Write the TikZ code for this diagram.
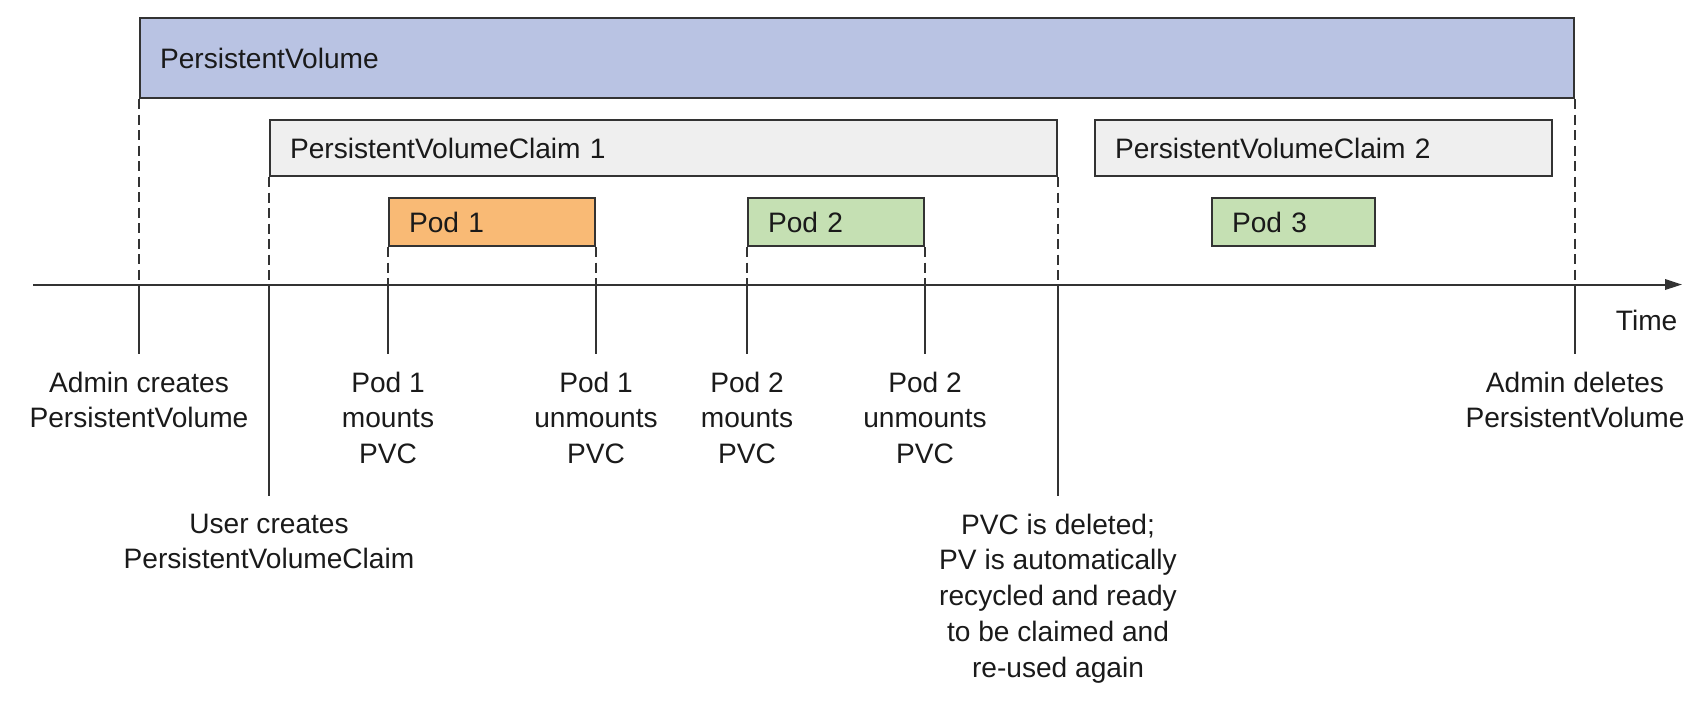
\documentclass[tikz,border=0pt]{standalone}
\usepackage{fontspec}
\setmainfont{Liberation Sans}
\usetikzlibrary{arrows.meta, positioning}

\definecolor{pvfill}{HTML}{B9C3E3}
\definecolor{pvcfill}{HTML}{EFEFEF}
\definecolor{podorange}{HTML}{F9BA75}
\definecolor{podgreen}{HTML}{C5E0B3}
\definecolor{linec}{HTML}{333333}
\definecolor{textc}{HTML}{1A1A1A}

\begin{document}
\begin{tikzpicture}[
  font=\fontsize{8}{10.2}\selectfont,
  text=textc,
  span/.style={draw=linec, line width=0.2mm, anchor=north west, align=left,
               inner xsep=2mm, inner ysep=0pt},
  drop/.style={draw=linec, line width=0.2mm, dash pattern=on 1mm off 0.55mm},
  tick/.style={draw=linec, line width=0.2mm},
  axis/.style={draw=linec, line width=0.2mm,
               -{Triangle[length=1.7mm, width=1.05mm]}},
  note/.style={align=center, inner sep=0pt}
]
\useasboundingbox (0mm,0mm) rectangle (170.2mm,-70.3mm);

%% ---------- spans ----------
\node[span, fill=pvfill, text width=139.4mm, minimum height=8mm] (pv)
  at (13.9mm,-1.7mm) {PersistentVolume};
\node[span, fill=pvcfill, text width=74.7mm, minimum height=5.6mm] (pvc1)
  at (26.9mm,-11.9mm) {PersistentVolumeClaim 1};
\node[span, fill=pvcfill, text width=41.7mm, minimum height=5.6mm] (pvc2)
  at (109.4mm,-11.9mm) {PersistentVolumeClaim 2};
\node[span, fill=podorange, text width=16.6mm, minimum height=4.8mm] (pod1)
  at (38.8mm,-19.7mm) {Pod 1};
\node[span, fill=podgreen, text width=13.6mm, minimum height=4.8mm] (pod2)
  at (74.7mm,-19.7mm) {Pod 2};
\node[span, fill=podgreen, text width=12.3mm, minimum height=4.8mm] (pod3)
  at (121.1mm,-19.7mm) {Pod 3};

%% ---------- time axis ----------
\coordinate (axl) at (3.3mm,-28.45mm);
\coordinate (axr) at (168.2mm,-28.45mm);
\draw[axis] (axl) -- (axr);
\node[note, anchor=base east] (time) at (167.8mm,-33.0mm) {Time};

%% ---------- events ----------
\foreach \src/\len/\nm in {pv.south west/6.95/adm, pvc1.south west/21.15/usr,
    pod1.south west/6.95/pam, pod1.south east/6.95/pau,
    pod2.south west/6.95/pbm, pod2.south east/6.95/pbu,
    pvc1.south east/21.15/del, pv.south east/6.95/rmv} {
  \coordinate (\nm-x) at (\src |- axl);
  \coordinate (\nm-e) at ([yshift=-\len mm]\nm-x);
  \draw[drop] (\src) -- (\nm-x);
  \draw[tick] (\nm-x) -- (\nm-e);
}

\node[note, below=1.7mm of adm-e] (admtxt) {Admin creates\\PersistentVolume};
\node[note, below=1.7mm of usr-e] (usrtxt) {User creates\\PersistentVolumeClaim};
\node[note, below=1.7mm of pam-e] (pamtxt) {Pod 1\\mounts\\PVC};
\node[note, below=1.7mm of pau-e] (pautxt) {Pod 1\\unmounts\\PVC};
\node[note, below=1.7mm of pbm-e] (pbmtxt) {Pod 2\\mounts\\PVC};
\node[note, below=1.7mm of pbu-e] (pbutxt) {Pod 2\\unmounts\\PVC};
\node[note, below=1.7mm of del-e] (deltxt) {PVC is deleted;\\PV is automatically\\
  recycled and ready\\to be claimed and\\re-used again};
\node[note, below=1.7mm of rmv-e] (rmvtxt) {Admin deletes\\PersistentVolume};
\end{tikzpicture}
\end{document}
